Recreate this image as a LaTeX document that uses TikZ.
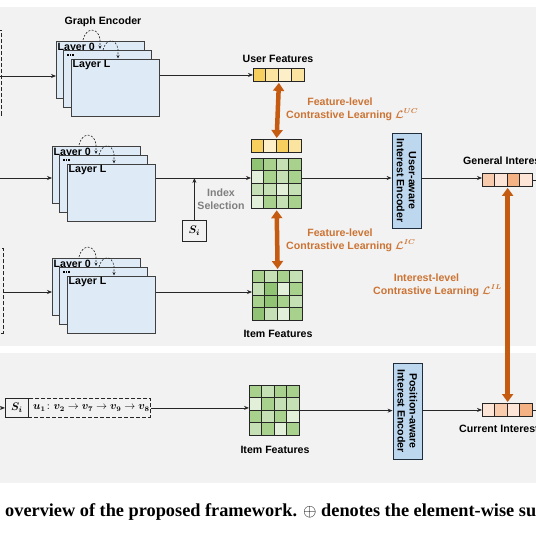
\documentclass[tikz,border=0pt]{standalone}
\usepackage{amsmath}
\usepackage{fontspec}
\setmainfont{Liberation Serif}
\newfontfamily\arialf{Liberation Sans}
\usetikzlibrary{arrows.meta}
\definecolor{panelgray}{HTML}{F2F2F2}
\definecolor{layerfill}{HTML}{DEEBF7}
\definecolor{layerline}{HTML}{404040}
\definecolor{encfill}{HTML}{BDD7EE}
\definecolor{encline}{HTML}{1F2D3D}
\definecolor{oarrow}{HTML}{C55A11}
\definecolor{otext}{HTML}{CC7434}
\definecolor{gtext}{HTML}{7F7F7F}
\definecolor{linecol}{HTML}{262626}
\definecolor{gd}{HTML}{90C373}
\definecolor{ga}{HTML}{A9D18E}
\definecolor{gb}{HTML}{C5E0B4}
\definecolor{gc}{HTML}{E2F0D9}
\definecolor{ya}{HTML}{F6CF5E}
\definecolor{yb}{HTML}{FBE3A0}
\definecolor{yc}{HTML}{FDEFC7}
\definecolor{pa}{HTML}{F4B183}
\definecolor{pb}{HTML}{F8CBAD}
\definecolor{pc}{HTML}{FCE4D6}

\newcommand\lstack[3]{%
 \begin{scope}[shift={(#2,#3)}]
  \node[layerbox] (#1-a) at (0,0) {};
  \node[lbl, anchor=base west] (#1-t0) at (1.5,9.5) {Layer 0};
  \draw[loopar] (27,-1) .. controls (30,-14) and (42,-14) .. (44,-2) -- (44,8);
  \node[layerbox] (#1-b) at (7,9) {};
  \node[anchor=west, inner sep=0] (#1-d) at (11,14) {\rule{1.7pt}{1.7pt}\hspace{0.6pt}\rule{1.7pt}{1.7pt}\hspace{0.6pt}\rule{1.7pt}{1.7pt}};
  \draw[loopar] (47,9) .. controls (50,-3) and (60,-3) .. (62,8) -- (62,17.5);
  \node[layerbox] (#1-c) at (15,18) {};
  \node[lbl, anchor=base west] (#1-tl) at (16.5,26.5) {Layer L};
 \end{scope}}

\newcommand\cellrow[5]{%
 \foreach \cc [count=\ii from 0] in {#5} \draw[cellline, fill=\cc] ({#1+\ii*#3},#2) rectangle ++(#3,#4);}

\newcommand\cellgrid[4]{%
 \foreach \rr [count=\jj from 0] in {#4} {\foreach \cc [count=\ii from 0] in \rr \draw[cellline, fill=\cc] ({#1+\ii*#3},{#2+\jj*#3}) rectangle ++(#3,#3);}}

\begin{document}
\begin{tikzpicture}[x=1pt,y=-1pt,
  lbl/.style={font=\arialf\bfseries\fontsize{10.6}{12}\selectfont, inner sep=0},
  olbl/.style={lbl, text=otext},
  glbl/.style={lbl, text=gtext},
  layerbox/.style={draw=layerline, fill=layerfill, line width=0.8pt, minimum width=88pt, minimum height=57pt, inner sep=0, anchor=north west},
  encbox/.style={draw=encline, fill=encfill, line width=0.8pt, minimum width=29pt, inner sep=0},
  enctext/.style={lbl, align=center, rotate=-90},
  arr/.style={-{Stealth[length=5pt,width=4pt]}, line width=0.75pt, draw=linecol},
  plain/.style={line width=0.75pt, draw=linecol},
  loopar/.style={-{Stealth[length=3.5pt,width=3pt]}, line width=0.6pt, draw=linecol, dash pattern=on 2pt off 1.5pt},
  oarr/.style={{Triangle[length=8pt,width=11pt]}-{Triangle[length=8pt,width=11pt]}, line width=4.5pt, draw=oarrow, shorten <=1pt, shorten >=1pt},
  cellline/.style={draw=linecol, line width=0.8pt},
  gridnode/.style={inner sep=0, anchor=north west, draw=linecol, line width=0.9pt},
  sibox/.style={draw=linecol, line width=0.8pt, inner sep=0, anchor=north west},
  dbox/.style={draw=linecol, line width=0.8pt, dash pattern=on 4pt off 2pt}
]
\useasboundingbox (0,0) rectangle (536,535);
\clip (0,0) rectangle (536,535);
\fill[white] (0,0) rectangle (536,535);
\fill[panelgray] (0,7) rectangle (536,346);
\fill[panelgray] (0,353) rectangle (536,483);

% partial dashed inputs at the left edge
\draw[dbox] (-40,30) rectangle (1.2,115);
\draw[dbox] (-40,248) rectangle (3,333);
\coordinate (tin) at (0,76);
\coordinate (min) at (0,178);
\coordinate (bin) at (3.4,292);
\coordinate (sin) at (-5,408);
\coordinate (redge) at (545,0);

% layer stacks
\lstack{ta}{56}{41}
\lstack{ma}{52}{146}
\lstack{ba}{52}{258}

\node[lbl] (ge) at (103,22) {Graph Encoder};

% feature cells
\cellrow{253}{68}{12.75}{13}{ya,yb,yc,yb}
\node[gridnode, minimum width=51pt, minimum height=13pt] (uf) at (253,68) {};
\cellrow{251}{139}{12.6}{13}{ya,yc,ya,yb}
\node[gridnode, minimum width=50.4pt, minimum height=13pt] (yr) at (251,139) {};
\cellgrid{251}{158}{12.6}{{gd,ga,gb,ga},{gc,ga,gb,ga},{gb,gb,gc,gb},{gc,ga,gb,ga}}
\node[gridnode, minimum width=50.4pt, minimum height=50.4pt] (ug) at (251,158) {};
\cellgrid{252}{270}{12.6}{{ga,gb,ga,gb},{gb,gd,gc,ga},{ga,gd,ga,gb},{gd,gb,gc,ga}}
\node[gridnode, minimum width=50.4pt, minimum height=50.4pt] (ig) at (252,270) {};
\cellgrid{249}{385}{12.6}{{ga,gb,ga,ga},{gc,ga,gb,gb},{ga,gb,ga,gc},{gb,ga,gc,ga}}
\node[gridnode, minimum width=50.4pt, minimum height=50.4pt] (bg) at (249,385) {};
\cellrow{482}{173}{12.6}{13}{pb,pc,pa,pc}
\node[gridnode, minimum width=50.4pt, minimum height=13pt] (gi) at (482,173) {};
\cellrow{482}{403}{12.6}{13}{pc,pb,pc,pa}
\node[gridnode, minimum width=50.4pt, minimum height=13pt] (ci) at (482,403) {};

% encoders
\node[encbox, minimum height=95pt] (enc1) at (406.5,180.5) {};
\node[enctext] (enc1t) at (enc1.center) {User-aware\\Interest Encoder};
\node[encbox, minimum height=96pt] (enc2) at (407.5,411) {};
\node[enctext] (enc2t) at (enc2.center) {Position-aware\\Interest Encoder};

% S_i index box
\node[sibox, minimum width=24pt, minimum height=21pt] (si) at (182,220) {\fontsize{11}{12}\selectfont$\boldsymbol{S_i}$};

% labels
\node[lbl] (uft) at (278,59) {User Features};
\node[olbl] (uc1) at (340,102) {Feature-level};
\node[olbl, anchor=west] (uc2) at (286,115) {Contrastive Learning $\boldsymbol{\mathcal{L}}^{\boldsymbol{UC}}$};
\node[olbl] (ic1) at (340,233) {Feature-level};
\node[olbl, anchor=west] (ic2) at (286,246) {Contrastive Learning $\boldsymbol{\mathcal{L}}^{\boldsymbol{IC}}$};
\node[olbl] (il1) at (426.5,278) {Interest-level};
\node[olbl, anchor=west] (il2) at (373,291) {Contrastive Learning $\boldsymbol{\mathcal{L}}^{\boldsymbol{IL}}$};
\node[glbl] (ix1) at (221,193) {Index};
\node[glbl] (ix2) at (221,206) {Selection};
\node[lbl] (ift) at (278,334) {Item Features};
\node[lbl, anchor=west] (git) at (463,161) {General Interest};
\node[lbl, anchor=west] (cit) at (459,429) {Current Interest};
\node[lbl] (ift2) at (275,450) {Item Features};

% connectors top row
\draw[arr] (tin) -- (tin -| ta-a.west);
\draw[arr] (ta-c.east |- uf.west) -- (uf.west);
% middle row
\draw[arr] (min) -- (min -| ma-a.west);
\draw[arr] (ma-c.east |- min) -- (min -| ug.west);
\draw[arr] (si.north) -- (si.north |- min);
\draw[arr] (ug.east |- min) -- (min -| enc1.west);
\draw[arr] (enc1.east |- min) -- (min -| gi.west);
\draw[plain] (gi.east) -- (gi.east -| redge);
% third row
\draw[arr] (bin) -- (bin -| ba-a.west);
\draw[arr] (ba-c.east |- bin) -- (bin -| ig.west);

% contrastive arrows
\draw[oarr] (uf.south) -- (yr.north);
\draw[oarr] (ug.south) -- (ig.north);
\draw[oarr] (gi.south) -- (ci.north);

% bottom panel
\node[sibox, dbox, minimum width=122pt, minimum height=19pt] (seq) at (28,398) {};
\node[sibox, minimum width=23pt, minimum height=19pt] (si2) at (5,398) {\fontsize{11}{12}\selectfont$\boldsymbol{S_i}$};
\node[anchor=west, inner sep=0, font=\fontsize{10.5}{12}\selectfont] (seqt) at (33,408) {$\boldsymbol{u_1}\colon \boldsymbol{v_2} \rightarrow \boldsymbol{v_7} \rightarrow \boldsymbol{v_9} \rightarrow \boldsymbol{v_8}$};
\draw[arr] (sin) -- (si2.west);
\draw[arr] (seq.east) -- (seq.east -| bg.west);
\draw[arr] (bg.east) -- (bg.east -| enc2.west);
\draw[arr] (enc2.east |- ci.west) -- (ci.west);
\draw[plain] (ci.east) -- (ci.east -| redge);

% caption
\node[anchor=base west, inner sep=0, font=\bfseries\fontsize{18.3}{20}\selectfont] (cap) at (5,516) {overview of the proposed framework. $\oplus$ denotes the element-wise su};
\end{tikzpicture}
\end{document}
